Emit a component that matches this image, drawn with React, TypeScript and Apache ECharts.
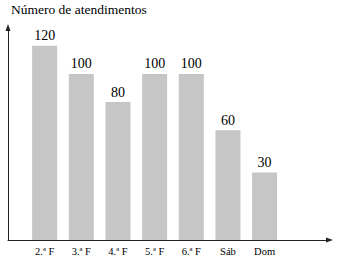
import React, { useEffect, useRef } from "react";
import * as echarts from "echarts";

const days = ["2.ª F", "3.ª F", "4.ª F", "5.ª F", "6.ª F", "Sáb", "Dom"];
const attendances = [120, 100, 80, 100, 100, 60, 30];
const titleText = "Número de atendimentos";

const FONT = "Liberation Serif";

export default function App() {
  const ref = useRef<HTMLDivElement>(null);
  useEffect(() => {
    if (!ref.current) return;
    const chart = echarts.init(ref.current, undefined, { renderer: "svg" });
    chart.setOption({
      animation: false,
      backgroundColor: "#ffffff",
      textStyle: { fontFamily: FONT },
      title: {
        text: titleText,
        left: 11,
        top: 2,
        padding: 0,
        textStyle: { fontFamily: FONT, fontSize: 13.5, fontWeight: "normal", color: "#000" },
      },
      grid: { left: 8, right: 7.5, top: 27.5, bottom: 19, containLabel: false, outerBoundsMode: "none" },
      xAxis: {
        type: "value",
        min: 0,
        max: 8.77,
        interval: 1,
        splitLine: { show: false },
        axisTick: { show: false },
        axisLine: {
          show: true,
          onZero: false,
          symbol: ["none", "triangle"],
          symbolSize: [5, 7],
          lineStyle: { color: "#222", width: 1 },
        },
        axisLabel: {
          show: true,
          margin: 6,
          showMinLabel: true,
          showMaxLabel: false,
          fontFamily: FONT,
          fontSize: 10.5,
          color: "#000",
          formatter: (v: number) => (Number.isInteger(v) && v >= 1 && v <= days.length ? days[v - 1] : ""),
        },
      },
      yAxis: {
        type: "value",
        min: -18,
        max: 133,
        startValue: -18,
        splitLine: { show: false },
        axisTick: { show: false },
        axisLabel: { show: false },
        axisLine: {
          show: true,
          symbol: ["none", "triangle"],
          symbolSize: [5, 7],
          lineStyle: { color: "#222", width: 1 },
        },
      },
      series: [
        {
          type: "bar",
          barWidth: 25,
          data: days.map((d, i) => [i + 1, attendances[i]]),
          itemStyle: { color: "#c6c6c6" },
          label: {
            show: true,
            position: "top",
            distance: 3,
            fontFamily: FONT,
            fontSize: 14,
            color: "#000",
            formatter: (p: any) => String(p.value[1]),
          },
        },
      ],
    });
    return () => chart.dispose();
  }, []);
  return <div ref={ref} style={{ width: 337, height: 259, position: "absolute", left: 0, top: 0 }} />;
}
